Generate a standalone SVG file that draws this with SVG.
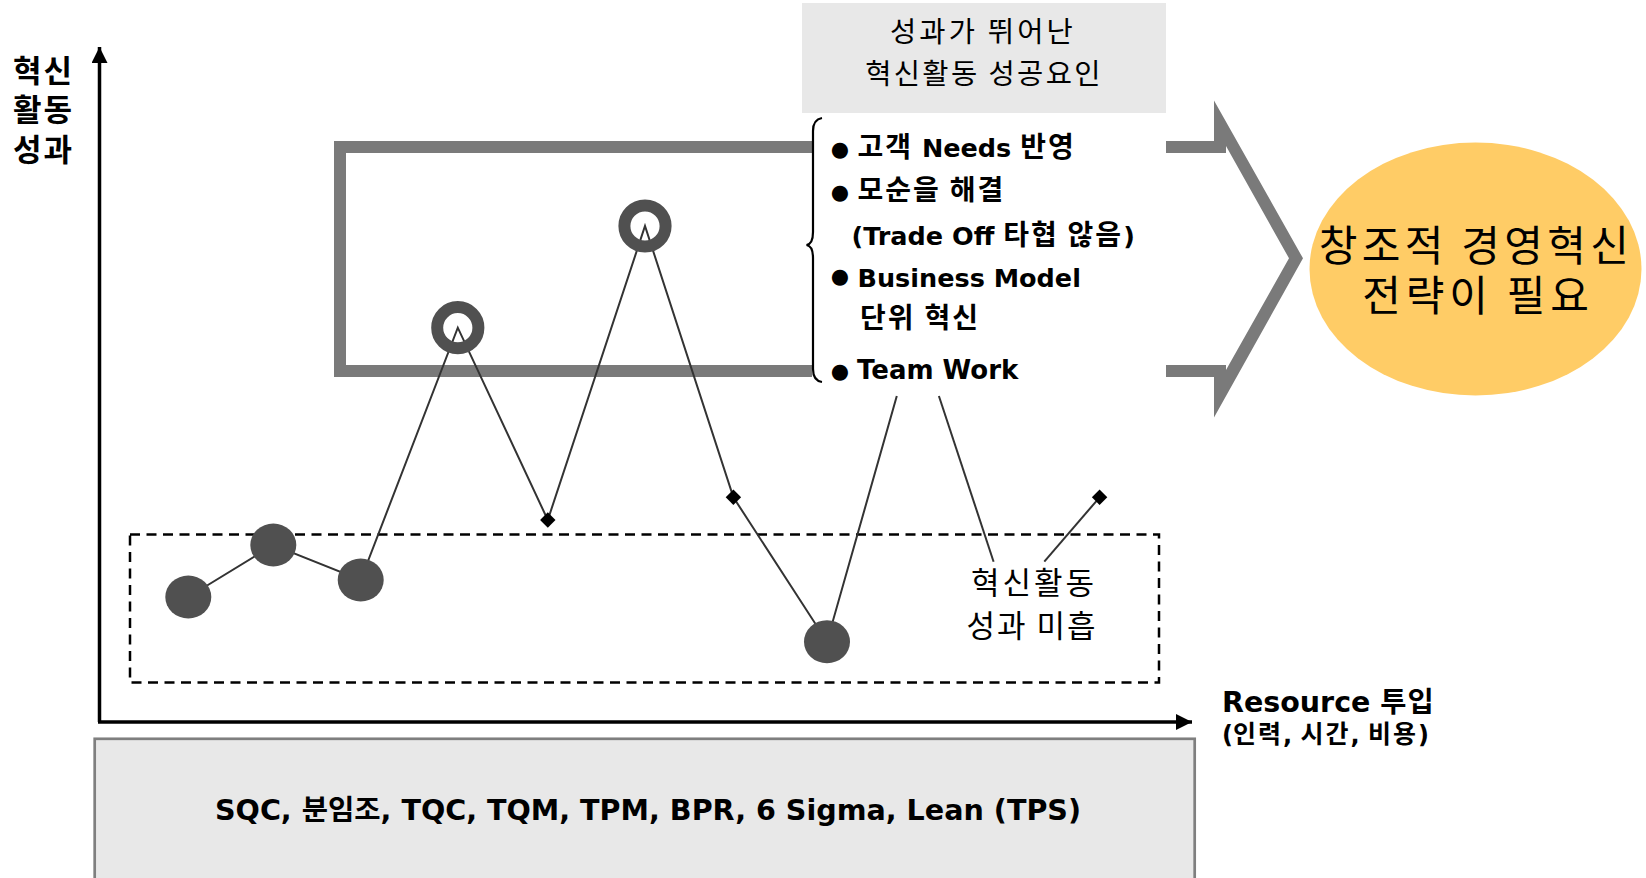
<svg xmlns="http://www.w3.org/2000/svg" width="1646" height="878" viewBox="0 0 1646 878">
  <style>
    .kb { font-family: "DejaVu Sans", "Noto Sans CJK KR", sans-serif; font-weight: bold; fill: #000; }
    .kr { font-family: "Noto Sans CJK KR", sans-serif; font-weight: normal; fill: #000; }
    .ky { font-family: "Noto Sans CJK KR", sans-serif; font-weight: bold; fill: #000; }
    .h { font-size: 28px; letter-spacing: 2px; }
    .bul { font-family: "DejaVu Sans", sans-serif; font-size: 21px; fill: #000; text-anchor: middle; }
    .conn { stroke: #333; stroke-width: 2; fill: none; }
    .dot { fill: #505050; }
    .ring { fill: none; stroke: #505050; stroke-width: 12; }
    .dia { fill: #000; }
    .bar { fill: #7a7a7a; }
  </style>
  <defs>
    <marker id="ah" markerUnits="userSpaceOnUse" markerWidth="18" markerHeight="18" refX="16" refY="8" orient="auto">
      <path d="M0,0 L16,8 L0,16 Z" fill="#000"/>
    </marker>
  </defs>

  <!-- axes -->
  <g id="axes">
    <line x1="99.5" y1="722" x2="99.5" y2="47" stroke="#000" stroke-width="3.5" marker-end="url(#ah)"/>
    <line x1="98" y1="722" x2="1192" y2="722" stroke="#000" stroke-width="3.5" marker-end="url(#ah)"/>
  </g>

  <g id="y-label">
    <text class="ky" font-size="31" letter-spacing="2"><tspan x="13" y="82">혁신</tspan><tspan x="13" y="121">활동</tspan><tspan x="13" y="160.5">성과</tspan></text>
  </g>

  <!-- big gray arrow outline -->
  <g id="success-arrow">
    <path d="M812,147 H340 V371 H812" fill="none" stroke="#7a7a7a" stroke-width="12" stroke-linejoin="miter"/>
    <polygon class="bar" points="1166,141 1214,141 1214,100.5 1303,258.3 1214,417.5 1214,377 1166,377 1166,365 1226,365 1226,370 1289,258.3 1226,146 1226,153 1166,153"/>
  </g>

  <!-- dashed low-performance box -->
  <g id="low-box">
    <rect x="130" y="534.5" width="1029" height="148" fill="none" stroke="#000" stroke-width="2.5" stroke-dasharray="10,6.5"/>
  </g>

  <!-- connectors -->
  <g id="connectors">
    <polyline class="conn" points="188.3,597 273.3,545 360.7,580 457.8,327.7 547.8,520 645,226 733.4,497.3 827,641.7 896.8,396"/>
    <line class="conn" x1="938.9" y1="396" x2="993.6" y2="561.7"/>
    <line class="conn" x1="1044.3" y1="561.7" x2="1099.6" y2="497.3"/>
  </g>

  <g id="points">
    <ellipse class="dot" cx="188.3" cy="597" rx="23" ry="21.5"/>
    <ellipse class="dot" cx="273.3" cy="545" rx="23" ry="21.5"/>
    <ellipse class="dot" cx="360.7" cy="580" rx="23" ry="21.5"/>
    <ellipse class="dot" cx="827" cy="641.7" rx="23" ry="21.5"/>
    <circle class="ring" cx="457.8" cy="327.7" r="20.6"/>
    <circle class="ring" cx="645" cy="226" r="20.6"/>
    <polygon class="dia" points="547.8,512.3 555.5,520 547.8,527.7 540.1,520"/>
    <polygon class="dia" points="733.4,489.6 741.1,497.3 733.4,505 725.7,497.3"/>
    <polygon class="dia" points="1099.6,489.6 1107.3,497.3 1099.6,505 1091.9,497.3"/>
  </g>

  <g id="success-title">
    <rect x="802" y="3" width="364" height="110" fill="#e8e8e8"/>
    <text class="kr" font-size="28.5" text-anchor="middle"><tspan x="983" y="41.5" letter-spacing="3.2">성과가 뛰어난</tspan><tspan x="984" y="84" letter-spacing="2.4">혁신활동 성공요인</tspan></text>
  </g>

  <g id="success-factors">
    <path d="M822,118 Q813,119.5 813,131 L813,232 Q813,244 806.5,245 Q813,246 813,258 L813,369 Q813,380.5 822,382" fill="none" stroke="#000" stroke-width="2.2"/>
    <text class="bul" x="840" y="156">●</text>
    <text class="bul" x="840" y="199.3">●</text>
    <text class="bul" x="840" y="282.6">●</text>
    <text class="bul" x="840" y="377.6">●</text>
    <text class="kb" font-size="25.5" x="857.5" y="157"><tspan class="h">고객</tspan> Needs <tspan class="h">반영</tspan></text>
    <text class="kb" font-size="25.5" x="857.5" y="200"><tspan class="h">모순을</tspan> <tspan class="h">해결</tspan></text>
    <text class="kb" font-size="25.5" x="851.5" y="245">(Trade Off <tspan class="h">타협</tspan> <tspan class="h">않음</tspan>)</text>
    <text class="kb" font-size="25.5" x="857.5" y="287">Business Model</text>
    <text class="kb" font-size="25.5" x="860" y="328"><tspan class="h">단위</tspan> <tspan class="h">혁신</tspan></text>
    <text class="kb" font-size="26" x="857" y="379">Team Work</text>
  </g>

  <g id="strategy">
    <ellipse cx="1475.5" cy="269" rx="166" ry="126.5" fill="#ffcc66"/>
    <text class="kr" font-size="42" text-anchor="middle"><tspan x="1476" y="261" letter-spacing="4.3">창조적 경영혁신</tspan><tspan x="1478" y="311" letter-spacing="4.8">전략이 필요</tspan></text>
  </g>

  <g id="low-label">
    <text class="kr" font-size="31" text-anchor="middle"><tspan x="1034" y="594" letter-spacing="3">혁신활동</tspan><tspan x="1032" y="637" letter-spacing="2">성과 미흡</tspan></text>
  </g>

  <g id="x-label">
    <text class="kb" font-size="28.5" x="1222" y="712">Resource <tspan letter-spacing="1">투입</tspan></text>
    <text class="kb" font-size="24" x="1222" y="743">(<tspan font-size="25" letter-spacing="2">인력</tspan>, <tspan font-size="25" letter-spacing="2">시간</tspan>, <tspan font-size="25" letter-spacing="2">비용</tspan>)</text>
  </g>

  <g id="methods">
    <rect x="94.7" y="738.8" width="1100" height="160" fill="#e8e8e8" stroke="#7f7f7f" stroke-width="2.7"/>
    <text class="kb" font-size="28.6" x="648" y="820" text-anchor="middle">SQC, 분임조, TQC, TQM, TPM, BPR, 6 Sigma, Lean (TPS)</text>
  </g>
</svg>
